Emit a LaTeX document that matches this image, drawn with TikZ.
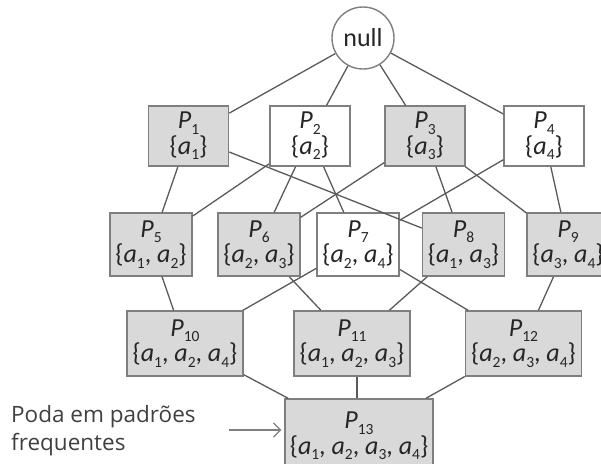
\documentclass[tikz,border=0pt]{standalone}
\usepackage{fontspec}
\setmainfont{Carlito}
\newfontfamily\notefont{Open Sans}
\usetikzlibrary{arrows.meta}
\definecolor{boxfill}{HTML}{D9D9D9}
\definecolor{boxline}{HTML}{7F7F7F}
\definecolor{linkline}{HTML}{5A5A5A}
\definecolor{txt}{HTML}{262626}
\definecolor{notetxt}{HTML}{404040}
% upright, lowered index
\newcommand\ix[1]{\raisebox{-0.2em}{\fontsize{15.5}{15.5}\selectfont #1}}
\newcommand\va[1]{\textit{a}\ix{#1}}
\newcommand\pp[1]{\textit{P}\ix{#1}}

\begin{document}
\begin{tikzpicture}[x=1pt,y=-1pt,
  itemset/.style={draw=boxline, line width=1.4pt, fill=boxfill, align=center,
    inner sep=0pt, font=\fontsize{26}{25.5}\selectfont, text=txt},
  infreq/.style={itemset, fill=white},
  lvone/.style={minimum width=80pt, minimum height=60pt},
  lvtwo/.style={minimum width=82pt, minimum height=63pt},
  lvthree/.style={minimum width=116pt, minimum height=65pt},
  link/.style={draw=linkline, line width=1.3pt}]
\useasboundingbox (0,0) rectangle (601,463);
\begin{scope}
\clip (0,0) rectangle (601,463);

% root
\node[circle, draw=boxline, line width=1.4pt, fill=white, minimum size=62pt,
  inner sep=0pt, font=\fontsize{26}{25}\selectfont, text=txt] (null) at (363,38) {null};

% 1-itemsets
\node[itemset, lvone] (p1) at (188.5,136) {\pp{1}\\\{\va{1}\}};
\node[infreq, lvone]  (p2) at (310,136)   {\pp{2}\\\{\va{2}\}};
\node[itemset, lvone] (p3) at (425,136)   {\pp{3}\\\{\va{3}\}};
\node[infreq, lvone]  (p4) at (544,136)   {\pp{4}\\\{\va{4}\}};

% 2-itemsets
\node[itemset, lvtwo] (p5) at (151,244.5)   {\pp{5}\\\{\va{1}, \va{2}\}};
\node[itemset, lvtwo] (p6) at (259,244.5)   {\pp{6}\\\{\va{2}, \va{3}\}};
\node[infreq, lvtwo]  (p7) at (358,244.5)   {\pp{7}\\\{\va{2}, \va{4}\}};
\node[itemset, lvtwo] (p8) at (463.5,244.5) {\pp{8}\\\{\va{1}, \va{3}\}};
\node[itemset, lvtwo] (p9) at (568,244.5)   {\pp{9}\\\{\va{3}, \va{4}\}};

% 3-itemsets
\node[itemset, lvthree] (p10) at (185,343.5)   {\pp{10}\\\{\va{1}, \va{2}, \va{4}\}};
\node[itemset, lvthree] (p11) at (352,343.5)   {\pp{11}\\\{\va{1}, \va{2}, \va{3}\}};
\node[itemset, lvthree] (p12) at (523.5,343.5) {\pp{12}\\\{\va{2}, \va{3}, \va{4}\}};

% 4-itemset
\node[itemset, minimum width=148pt, minimum height=74pt] (p13) at (359,436)
  {\pp{13}\\\{\va{1}, \va{2}, \va{3}, \va{4}\}};

% lattice edges
\foreach \t in {p1,p2,p3,p4} \draw[link] (null) -- (\t);
\draw[link] (p1) -- (p5);  \draw[link] (p1) -- (p8);
\draw[link] (p2) -- (p5);  \draw[link] (p2) -- (p6);  \draw[link] (p2) -- (p7);
\draw[link] (p3) -- (p6);  \draw[link] (p3) -- (p8);  \draw[link] (p3) -- (p9);
\draw[link] (p4) -- (p7);  \draw[link] (p4) -- (p9);
\draw[link] (p5) -- (p10); \draw[link] (p7) -- (p10);
\draw[link] (p6) -- (p11); \draw[link] (p8) -- (p11);
\draw[link] (p7) -- (p12); \draw[link] (p9) -- (p12);
\draw[link] (p10) -- (p13); \draw[link] (p12) -- (p13);
\draw[link] (p11.south -| 357,0) -- (p13.north -| 357,0);

% note with arrow
\node[anchor=west, align=left, inner sep=0pt, text=notetxt,
  font=\notefont\fontsize{22.5}{28}\selectfont] (note) at (11,431)
  {Poda em padrões\\frequentes};
\coordinate (tail) at (229,430);
\draw[link, draw=boxline, -{Straight Barb[length=7pt,width=14pt,line width=1.2pt]}]
  (tail) -- ([xshift=-3pt]p13.west |- tail);
\end{scope}
\end{tikzpicture}
\end{document}
